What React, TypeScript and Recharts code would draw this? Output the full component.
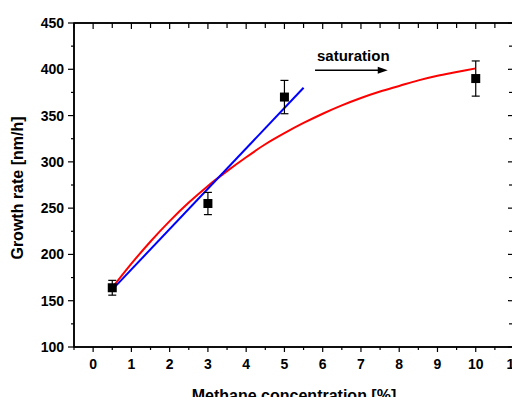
import React from 'react';
import { ComposedChart, Line, Scatter, ErrorBar, XAxis, YAxis, ZAxis, ReferenceLine, ReferenceArea, Label } from 'recharts';

// measured growth rates with error bars
const concentration = [0.5, 3, 5, 10];
const growthRate = [164, 255, 370, 390];
const growthErr = [8, 12, 18, 19];

// red saturating fit curve
const fitX = [0.5, 1, 1.5, 2, 2.5, 3, 3.5, 4, 4.5, 5, 5.5, 6, 6.5, 7, 7.5, 8, 8.5, 9, 9.5, 10];
const fitY = [164, 190, 214, 236, 256, 274, 290, 305, 319, 331, 342, 352, 361, 369, 376, 382, 388, 393, 397, 401];

// blue linear fit
const linX = [0.5, 5.5];
const linY = [162, 380];

// annotation arrow
const arrowX = [5.8, 7.7];
const arrowY = 399;

const xDomain = [-0.5, 11];
const yDomain = [100, 450];
const xTicks = [-0.5, 0, 0.5, 1, 1.5, 2, 2.5, 3, 3.5, 4, 4.5, 5, 5.5, 6, 6.5, 7, 7.5, 8, 8.5, 9, 9.5, 10, 10.5, 11];
const yTicks = [100, 125, 150, 175, 200, 225, 250, 275, 300, 325, 350, 375, 400, 425, 450];

const points = concentration.map((x, i) => ({ x, y: growthRate[i], err: growthErr[i] }));
const fitData = fitX.map((x, i) => ({ x, y: fitY[i] }));
const linData = linX.map((x, i) => ({ x, y: linY[i] }));

const FONT = 'Arial, "Liberation Sans", sans-serif';
const W = 520;
const H = 405;
const MARGIN = { top: 23, right: 6, left: 0, bottom: 0 };
const Y_AXIS_W = 74;
const X_AXIS_H = 58;
// plot frame, used for the mirrored inward ticks on top and right
const PLOT_L = MARGIN.left + Y_AXIS_W;
const PLOT_R = W - MARGIN.right;
const PLOT_T = MARGIN.top;
const PLOT_B = H - MARGIN.bottom - X_AXIS_H;

const BottomTick = (props: any) => {
  const { x, y, payload } = props;
  const major = Number.isInteger(payload.value);
  return (
    <g>
      <line x1={x} y1={y} x2={x} y2={y + (major ? 5 : 3)} stroke="#000" strokeWidth={1.2} />
      {major && (
        <text x={x} y={y + 17} dy="0.355em" textAnchor="middle" fontFamily={FONT} fontWeight="bold" fontSize={14} fill="#000">
          {payload.value}
        </text>
      )}
    </g>
  );
};

const LeftTick = (props: any) => {
  const { x, y, payload } = props;
  const major = payload.value % 50 === 0;
  return (
    <g>
      <line x1={x} y1={y} x2={x - (major ? 6 : 3)} y2={y} stroke="#000" strokeWidth={1.2} />
      {major && (
        <text x={x - 10} y={y} dy="0.355em" textAnchor="end" fontFamily={FONT} fontWeight="bold" fontSize={14} fill="#000">
          {payload.value}
        </text>
      )}
    </g>
  );
};

const Arrow = (props: any) => {
  const { x1, y1, x2, y2 } = props;
  return (
    <g>
      <line x1={x1} y1={y1} x2={x2 - 8} y2={y2} stroke="#000" strokeWidth={1.5} />
      <polygon points={`${x2},${y2} ${x2 - 10},${y2 - 3.5} ${x2 - 10},${y2 + 3.5}`} fill="#000" />
      <text x={x1 + 2} y={y1 - 9} fontFamily={FONT} fontWeight="bold" fontSize={15} fill="#000">
        saturation
      </text>
    </g>
  );
};

// top and right inward ticks (Origin-style mirrored axes)
const MirrorTicks = () => {
  const sx = (v: number) => PLOT_L + ((v - xDomain[0]) / (xDomain[1] - xDomain[0])) * (PLOT_R - PLOT_L);
  const sy = (v: number) => PLOT_B - ((v - yDomain[0]) / (yDomain[1] - yDomain[0])) * (PLOT_B - PLOT_T);
  return (
    <svg width={W} height={H} style={{ position: 'absolute', left: 0, top: 0, zIndex: 5, pointerEvents: 'none' }}>
      <path d={`M${PLOT_L},${PLOT_T} H${PLOT_R} V${PLOT_B}`} fill="none" stroke="#000" strokeWidth={1.6} />
      {xTicks.map((t) => (
        <line key={`tx${t}`} x1={sx(t)} y1={PLOT_T} x2={sx(t)} y2={PLOT_T + (Number.isInteger(t) ? 6 : 5)} stroke="#000" strokeWidth={1.2} />
      ))}
      {yTicks.map((t) => (
        <line key={`ty${t}`} x1={PLOT_R} y1={sy(t)} x2={PLOT_R - (t % 50 === 0 ? 6 : 5)} y2={sy(t)} stroke="#000" strokeWidth={1.2} />
      ))}
    </svg>
  );
};

export default function App() {
  return (
    <div style={{ position: 'relative', margin: -8, width: W, height: H, background: '#fff' }}>
      <ComposedChart width={W} height={H} margin={MARGIN}>
        <XAxis
          dataKey="x"
          type="number"
          domain={xDomain}
          ticks={xTicks}
          interval={0}
          allowDataOverflow
          height={X_AXIS_H}
          tickSize={0}
          tickMargin={0}
          tickLine={false}
          axisLine={{ stroke: '#000', strokeWidth: 1.5 }}
          tick={<BottomTick />}
        >
          <Label
            content={(p: any) => {
              const vb = p.viewBox;
              return (
                <text x={vb.x + vb.width / 2} y={vb.y + 54} textAnchor="middle" fontFamily={FONT} fontWeight="bold" fontSize={16} fill="#000">
                  Methane concentration [%]
                </text>
              );
            }}
          />
        </XAxis>
        <YAxis
          type="number"
          domain={yDomain}
          ticks={yTicks}
          interval={0}
          allowDataOverflow
          width={Y_AXIS_W}
          tickSize={0}
          tickMargin={0}
          tickLine={false}
          axisLine={{ stroke: '#000', strokeWidth: 1.5 }}
          tick={<LeftTick />}
        >
          <Label
            content={(p: any) => {
              const vb = p.viewBox;
              const cx = vb.x + 17;
              const cy = vb.y + vb.height / 2 + 3;
              return (
                <text x={cx} y={cy} transform={`rotate(-90 ${cx} ${cy})`} textAnchor="middle" dy="0.355em" fontFamily={FONT} fontWeight="bold" fontSize={16} fill="#000">
                  Growth rate [nm/h]
                </text>
              );
            }}
          />
        </YAxis>
        <ZAxis range={[81, 81]} />
        {/* plot frame */}
        <ReferenceArea x1={xDomain[0]} x2={xDomain[1]} y1={yDomain[0]} y2={yDomain[1]} fill="none" fillOpacity={0} stroke="#000" strokeWidth={1.5} ifOverflow="visible" />
        <ReferenceLine
          segment={[{ x: arrowX[0], y: arrowY }, { x: arrowX[1], y: arrowY }]}
          stroke="#000"
          shape={<Arrow />}
        />
        <Line data={fitData} dataKey="y" type="monotone" stroke="#ff0000" strokeWidth={2} dot={false} isAnimationActive={false} />
        <Line data={linData} dataKey="y" type="linear" stroke="#0000ff" strokeWidth={2} dot={false} isAnimationActive={false} />
        <Scatter data={points} dataKey="y" fill="#000" shape="square" isAnimationActive={false}>
          <ErrorBar dataKey="err" direction="y" width={4} stroke="#000" strokeWidth={1.2} />
        </Scatter>
      </ComposedChart>
      <MirrorTicks />
    </div>
  );
}
